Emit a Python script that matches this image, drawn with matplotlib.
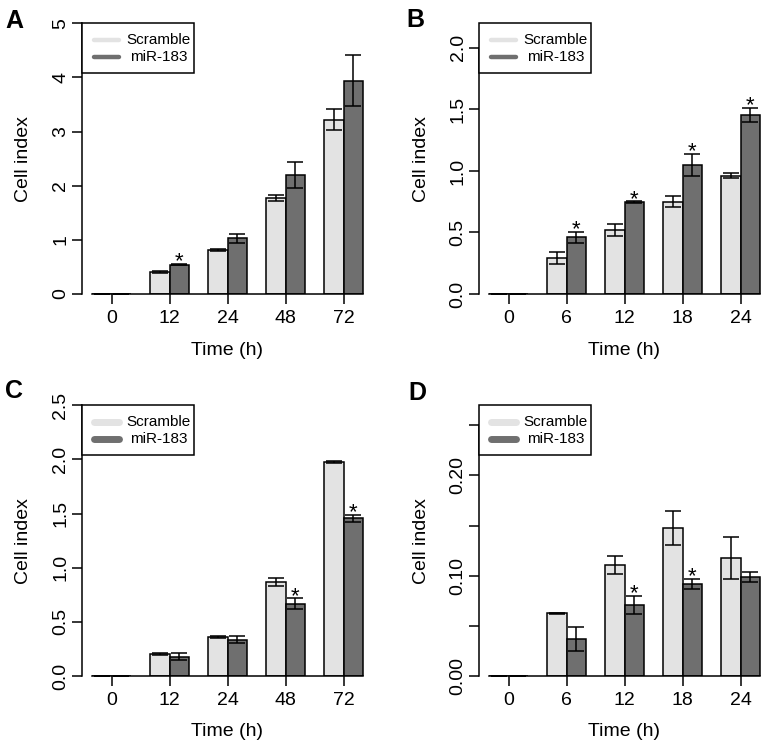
import matplotlib
matplotlib.use('Agg')
import matplotlib.pyplot as plt
import numpy as np

plt.rcParams['font.family'] = ['Liberation Sans', 'DejaVu Sans']

# ---- data
time_a = ['0', '12', '24', '48', '72']
scr_a = [0, 0.41, 0.81, 1.77, 3.22]
scr_a_err = [0, 0.02, 0.012, 0.06, 0.20]
mir_a = [0, 0.54, 1.03, 2.19, 3.94]
mir_a_err = [0, 0.012, 0.085, 0.24, 0.47]
star_a = [0, 1, 0, 0, 0]

time_b = ['0', '6', '12', '18', '24']
scr_b = [0, 0.295, 0.52, 0.75, 0.962]
scr_b_err = [0, 0.05, 0.05, 0.046, 0.022]
mir_b = [0, 0.46, 0.748, 1.05, 1.455]
mir_b_err = [0, 0.047, 0.005, 0.09, 0.055]
star_b = [0, 1, 1, 1, 1]

time_c = ['0', '12', '24', '48', '72']
scr_c = [0, 0.203, 0.357, 0.865, 1.975]
scr_c_err = [0, 0.005, 0.01, 0.037, 0.008]
mir_c = [0, 0.178, 0.335, 0.668, 1.455]
mir_c_err = [0, 0.03, 0.03, 0.05, 0.03]
star_c = [0, 0, 0, 1, 1]

time_d = ['0', '6', '12', '18', '24']
scr_d = [0, 0.0626, 0.1105, 0.148, 0.1175]
scr_d_err = [0, 0.0006, 0.0087, 0.017, 0.0207]
mir_d = [0, 0.037, 0.0709, 0.0922, 0.0988]
mir_d_err = [0, 0.012, 0.0088, 0.005, 0.0048]
star_d = [0, 0, 1, 1, 0]

LIGHT = '#e3e3e3'
DARK = '#6f6f6f'

W, H = 765, 746
AX_W, AX_H = 290.8, 270.7   # axes size in pixels


def panel(left, top, times, scr, scr_err, mir, mir_err, stars,
          ymax, yticks, ylabels, letter, letter_xy, hlw):
    ax = fig.add_axes([left / W, 1 - (top + AX_H) / H, AX_W / W, AX_H / H])
    centers = np.arange(len(times)) * 3.0
    ax.bar(centers - 0.5, scr, width=1, color=LIGHT, edgecolor='black', linewidth=1.1, zorder=2)
    ax.bar(centers + 0.5, mir, width=1, color=DARK, edgecolor='black', linewidth=1.1, zorder=2)
    ax.errorbar(centers - 0.5, scr, yerr=scr_err, fmt='none', ecolor='black',
                elinewidth=1.1, capsize=5.6, capthick=1.1, zorder=3)
    ax.errorbar(centers + 0.5, mir, yerr=mir_err, fmt='none', ecolor='black',
                elinewidth=1.1, capsize=5.6, capthick=1.1, zorder=3)
    for i, s in enumerate(stars):
        if s:
            # star sits just above the error cap
            ax.annotate('*', xy=(centers[i] + 0.5, mir[i] + mir_err[i]), xytext=(0, -2.5),
                        textcoords='offset points', ha='center', va='baseline', fontsize=16)

    ax.set_xlim(-1.54, 13.5)
    ax.set_ylim(0, ymax)
    ax.set_xticks(centers)
    ax.set_xticklabels(times)
    ax.set_yticks(yticks)
    ax.set_yticklabels(ylabels)
    for sp in ['top', 'right']:
        ax.spines[sp].set_visible(False)
    ax.spines['left'].set_linewidth(1.1)
    ax.spines['bottom'].set_linewidth(1.1)
    ax.spines['left'].set_bounds(0, yticks[-1])
    ax.spines['bottom'].set_bounds(-1, centers[-1] + 1)
    ax.tick_params(axis='both', length=7.5, width=1.1, labelsize=14)
    ax.tick_params(axis='x', pad=4)
    ax.tick_params(axis='y', pad=1.5, labelrotation=90)
    for lab in ax.get_yticklabels():
        lab.set_va('center')

    ax.text(-58 / AX_W, 0.5, 'Cell index', transform=ax.transAxes, rotation=90,
            ha='center', va='center', fontsize=14)
    ax.text(0.5, -56 / AX_H, 'Time (h)', transform=ax.transAxes,
            ha='center', va='center', fontsize=14)

    # legend box in the R style
    box = plt.Rectangle((0, 1 - 49.7 / AX_H), 112 / AX_W, 49.7 / AX_H, transform=ax.transAxes,
                        facecolor='white', edgecolor='black', linewidth=1.1, zorder=5, clip_on=False)
    ax.add_patch(box)
    for k, (lab, col) in enumerate([('Scramble', LIGHT), ('miR-183', DARK)]):
        yy = 1 - (16.7 + 16.7 * k) / AX_H
        ax.plot([11.5 / AX_W, 37 / AX_W], [yy, yy], transform=ax.transAxes, color=col,
                linewidth=hlw, solid_capstyle='round', zorder=6, clip_on=False)
        ax.text(76.7 / AX_W, yy, lab, transform=ax.transAxes, ha='center', va='center',
                fontsize=11, zorder=6)

    fig.text(letter_xy[0] / W, 1 - letter_xy[1] / H, letter, ha='center', va='baseline',
             fontsize=18, fontweight='bold')
    return ax


fig = plt.figure(figsize=(7.65, 7.46), dpi=100)

panel(82, 23.3, time_a, scr_a, scr_a_err, mir_a, mir_a_err, star_a,
      5, [0, 1, 2, 3, 4, 5], ['0', '1', '2', '3', '4', '5'], 'A', (14, 28), 3.2)
panel(479, 23.3, time_b, scr_b, scr_b_err, mir_b, mir_b_err, star_b,
      2.2, [0, 0.5, 1.0, 1.5, 2.0], ['0.0', '0.5', '1.0', '1.5', '2.0'], 'B', (415, 27), 3.2)
panel(82, 405.3, time_c, scr_c, scr_c_err, mir_c, mir_c_err, star_c,
      2.5, [0, 0.5, 1.0, 1.5, 2.0, 2.5], ['0.0', '0.5', '1.0', '1.5', '2.0', '2.5'], 'C', (14, 398), 5)
panel(479, 405.3, time_d, scr_d, scr_d_err, mir_d, mir_d_err, star_d,
      0.27, [0, 0.05, 0.10, 0.15, 0.20, 0.25], ['0.00', '', '0.10', '', '0.20', ''], 'D', (417, 400), 5)

fig.savefig('out.png', dpi=100)
